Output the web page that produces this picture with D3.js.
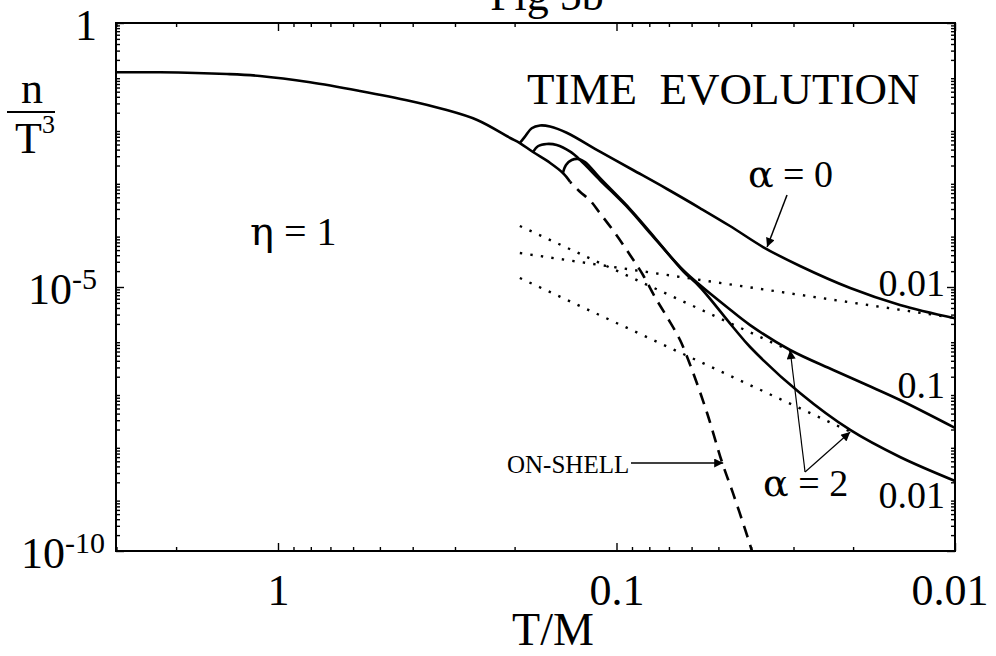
<!DOCTYPE html>
<meta charset="utf-8">
<script src="https://d3js.org/d3.v7.min.js"></script>
<style>
  body { margin: 0; background: #fff; }
  svg text { font-family: "Liberation Serif", "Times New Roman", serif; fill: #000; }
  .greek { font-family: "DejaVu Serif", serif; }
</style>
<div id="chart"></div>
<script>
    // on-shell (equilibrium) n/T^3 against T/M
    var onShellT = [3.01, 2.23, 1.415, 1.13, 0.804, 0.573, 0.407, 0.326, 0.258, 0.206, 0.193, 0.1765, 0.157, 0.144, 0.137,
                    0.128, 0.120, 0.112, 0.101, 0.0912, 0.0835, 0.0770, 0.0709, 0.0649, 0.0598, 0.054, 0.0488, 0.0453, 0.0409, 0.0398];
    var onShellN = [0.1165, 0.1165, 0.108, 0.0991, 0.0753, 0.0515, 0.0333, 0.0235, 0.01455, 0.00664, 0.00533, 0.0036, 0.00223, 0.00144, 9.75e-4,
                    6.3e-4, 4.45e-4, 2.52e-4, 1.05e-4, 4.04e-5, 1.69e-5, 6.47e-6, 2.70e-6, 9.9e-7, 2.68e-7, 4.11e-8, 4.85e-9, 1.26e-9, 1.76e-10, 1e-10];
    var onShellSolidEnd = 0.137;   // below this T the on-shell curve is dashed

    // time evolution, alpha = 0, coupling 0.01
    var a0T = [0.193, 0.1864, 0.178, 0.1683, 0.1572, 0.1403, 0.1119, 0.0894, 0.0709, 0.0567, 0.0462, 0.0369, 0.0287, 0.0204, 0.01454, 0.01];
    var a0N = [0.00533, 0.00703, 0.01014, 0.01145, 0.01096, 0.00836, 0.00365, 0.001644, 7.18e-4, 3.13e-4, 1.43e-4, 5.72e-5, 2.50e-5, 9.57e-6, 4.56e-6, 2.55e-6];

    // time evolution, alpha = 2, coupling 0.1
    var a2bT = [0.1765, 0.1703, 0.1608, 0.1502, 0.137, 0.128, 0.112, 0.0912, 0.0796, 0.0636, 0.0567, 0.0472, 0.0403, 0.0307, 0.0229, 0.0182, 0.01454, 0.01];
    var a2bN = [0.0036, 0.00468, 0.00511, 0.00489, 0.00365, 0.00254, 0.001064, 2.87e-4, 1.05e-4, 2.10e-5, 1.09e-5, 4.18e-6, 1.90e-6, 6.41e-7, 2.68e-7, 1.39e-7, 7.24e-8, 2.14e-8];

    // time evolution, alpha = 2, coupling 0.01
    var a2cT = [0.144, 0.141, 0.1356, 0.1299, 0.1239, 0.112, 0.0912, 0.0796, 0.0636, 0.0567, 0.0453, 0.0403, 0.0287, 0.0204, 0.01454, 0.01];
    var a2cN = [0.00144, 0.00205, 0.00254, 0.00266, 0.00233, 0.001159, 3.0e-4, 1.10e-4, 2.01e-5, 1.0e-5, 1.75e-6, 7.31e-7, 9.82e-8, 1.96e-8, 6.03e-9, 2.12e-9];

    // dotted asymptotes (start, end)
    var dotT = [[0.193, 0.0297], [0.193, 0.01], [0.193, 0.0197]];
    var dotN = [[1.43e-4, 5.6e-7], [4.4e-5, 2.59e-6], [1.48e-5, 1.64e-8]];

    var xTicks = [1, 0.1, 0.01];
    var yTicks = [1, 1e-5, 1e-10];
    var yTickExp = ["", "-5", "-10"];

    var margin = {top: 23, right: 41, bottom: 105, left: 116},
        width = 996 - margin.left - margin.right,
        height = 656 - margin.top - margin.bottom;

    var root = d3.select("#chart")
        .append("svg")
            .attr("width", 996)
            .attr("height", 656);

    var svg = root.append("g")
            .attr("transform", "translate(" + margin.left + "," + margin.top + ")");

    var x = d3.scaleLog().domain([3.01, 0.01]).range([0, width]);
    var y = d3.scaleLog().domain([1, 1e-10]).range([0, height]);

    var defs = root.append("defs");
    defs.append("clipPath").attr("id", "plotclip")
        .append("rect").attr("width", width).attr("height", height);
    defs.append("marker")
        .attr("id", "head")
        .attr("viewBox", "0 0 10 10")
        .attr("refX", 10).attr("refY", 5)
        .attr("markerWidth", 15).attr("markerHeight", 9)
        .attr("markerUnits", "userSpaceOnUse")
        .attr("orient", "auto")
        .append("path").attr("d", "M0,0L10,5L0,10z").attr("fill", "#000");

    // minor ticks
    var xMinor = [], yMinor = [];
    [0.01, 0.1, 1].forEach(function(d) {
        for (var k = 2; k <= 9; k++) if (k * d <= 3.01) xMinor.push(k * d);
    });
    for (var e = -10; e < 0; e++) {
        for (var k = 2; k <= 9; k++) yMinor.push(k * Math.pow(10, e));
    }

    function noDomain(g) { g.select(".domain").remove(); g.selectAll("line").attr("stroke-width", 1.4); }

    svg.append("g").attr("transform", "translate(0," + height + ")")
        .call(d3.axisBottom(x).tickValues(xMinor).tickSize(-4).tickFormat("")).call(noDomain);
    svg.append("g")
        .call(d3.axisTop(x).tickValues(xMinor).tickSize(-4).tickFormat("")).call(noDomain);
    svg.append("g")
        .call(d3.axisTop(x).tickValues(xTicks).tickSize(-8).tickFormat("")).call(noDomain);
    svg.append("g")
        .call(d3.axisLeft(y).tickValues(yMinor).tickSize(-4).tickFormat("")).call(noDomain);
    svg.append("g").attr("transform", "translate(" + width + ",0)")
        .call(d3.axisRight(y).tickValues(yMinor).tickSize(-4).tickFormat("")).call(noDomain);
    svg.append("g").attr("transform", "translate(" + width + ",0)")
        .call(d3.axisRight(y).tickValues(yTicks).tickSize(-8).tickFormat("")).call(noDomain);

    var xAxis = svg.append("g")
        .attr("transform", "translate(0," + height + ")")
        .call(d3.axisBottom(x).tickValues(xTicks).tickSize(-8).tickPadding(23).tickFormat(function(d) { return String(d); }))
        .call(noDomain);
    xAxis.attr("font-size", 44).attr("font-family", null);
    xAxis.selectAll("text").filter(function(d) { return d === 0.01; })
        .attr("text-anchor", "end").attr("x", 33);

    var yAxis = svg.append("g")
        .call(d3.axisLeft(y).tickValues(yTicks).tickSize(-8).tickFormat(""))
        .call(noDomain);
    yAxis.attr("font-family", null);
    yAxis.selectAll(".tick").each(function(d, i) {
        var t = d3.select(this).append("text")
            .attr("x", d === 1e-10 ? -11 : -19)
            .attr("dy", "0.37em")
            .attr("text-anchor", "end")
            .attr("font-size", 44);
        t.append("tspan").text(d === 1 ? "1" : "10");
        if (yTickExp[i]) t.append("tspan").attr("font-size", 30).attr("dy", -15).text(yTickExp[i]);
    });

    // frame
    svg.append("rect")
        .attr("width", width).attr("height", height)
        .attr("fill", "none").attr("stroke", "#000").attr("stroke-width", 2);

    var plot = svg.append("g").attr("clip-path", "url(#plotclip)");

    var line = d3.line()
        .x(function(d) { return x(d[0]); })
        .y(function(d) { return y(d[1]); })
        .curve(d3.curveCatmullRom.alpha(0.5));

    function zip(ts, ns) { return ts.map(function(t, i) { return [t, ns[i]]; }); }

    var onShell = zip(onShellT, onShellN);
    plot.append("path")
        .datum(onShell.filter(function(d) { return d[0] >= onShellSolidEnd; }))
        .attr("d", line).attr("fill", "none").attr("stroke", "#000").attr("stroke-width", 2.6);
    plot.append("path")
        .datum(onShell.filter(function(d) { return d[0] <= onShellSolidEnd; }))
        .attr("d", line).attr("fill", "none").attr("stroke", "#000").attr("stroke-width", 2.6)
        .attr("stroke-dasharray", "12,8").attr("stroke-dashoffset", -10);

    [[a0T, a0N], [a2bT, a2bN], [a2cT, a2cN]].forEach(function(s) {
        plot.append("path")
            .datum(zip(s[0], s[1]))
            .attr("d", line).attr("fill", "none").attr("stroke", "#000").attr("stroke-width", 2.6);
    });

    dotT.forEach(function(ts, i) {
        plot.append("path")
            .datum(zip(ts, dotN[i]))
            .attr("d", d3.line().x(function(d) { return x(d[0]); }).y(function(d) { return y(d[1]); }))
            .attr("fill", "none").attr("stroke", "#000").attr("stroke-width", 2.4)
            .attr("stroke-dasharray", "2.4,8.2");
    });

    // annotations, placed in data units
    function label(txt, T, n, size, anchor) {
        return svg.append("text")
            .attr("x", x(T)).attr("y", y(n))
            .attr("font-size", size)
            .attr("text-anchor", anchor || "start")
            .style("white-space", "pre")
            .text(txt);
    }
    function greekLabel(sym, rest, T, n, size) {
        var t = svg.append("text")
            .attr("x", x(T)).attr("y", y(n))
            .attr("font-size", size)
            .style("white-space", "pre");
        t.append("tspan").attr("class", "greek").text(sym);
        t.append("tspan").text(rest);
        return t;
    }
    function arrow(T0, n0, T1, n1, w) {
        svg.append("line")
            .attr("x1", x(T0)).attr("y1", y(n0))
            .attr("x2", x(T1)).attr("y2", y(n1))
            .attr("stroke", "#000").attr("stroke-width", w)
            .attr("marker-end", "url(#head)");
    }

    label("TIME  EVOLUTION", 0.1838, 0.0292, 45);
    greekLabel("\u03b1", " = 0", 0.0409, 7.83e-4, 38);
    greekLabel("\u03b7", " = 1", 1.21, 6.24e-5, 40);
    label("0.01", 0.0107, 6.76e-6, 38, "end");
    label("0.1", 0.0107, 7.9e-8, 38, "end");
    label("0.01", 0.0107, 6.52e-10, 38, "end");
    greekLabel("\u03b1", " = 2", 0.0369, 1.1e-9, 38);
    label("ON-SHELL", 0.2106, 3.0e-9, 25);

    arrow(0.0906, 4.64e-9, 0.0484, 4.64e-9, 1.5);
    arrow(0.03135, 5.52e-4, 0.0359, 5.72e-5, 1.5);
    arrow(0.02773, 3.13e-9, 0.0307, 6.41e-7, 1.2);
    arrow(0.02773, 3.13e-9, 0.0204, 1.79e-8, 1.2);

    // titles outside the frame
    root.append("text").attr("x", 547).attr("y", 10).attr("font-size", 44)
        .attr("text-anchor", "middle").text("Fig 5b");
    root.append("text").attr("x", 553).attr("y", 645).attr("font-size", 46)
        .attr("text-anchor", "middle").text("T/M");

    var ylab = root.append("g");
    ylab.append("text").attr("x", 32).attr("y", 103).attr("font-size", 44)
        .attr("text-anchor", "middle").text("n");
    ylab.append("line").attr("x1", 7).attr("x2", 55).attr("y1", 112).attr("y2", 112)
        .attr("stroke", "#000").attr("stroke-width", 2);
    var tt = ylab.append("text").attr("x", 15).attr("y", 153).attr("font-size", 44);
    tt.append("tspan").text("T");
    tt.append("tspan").attr("font-size", 26).attr("dy", -20).text("3");
</script>
